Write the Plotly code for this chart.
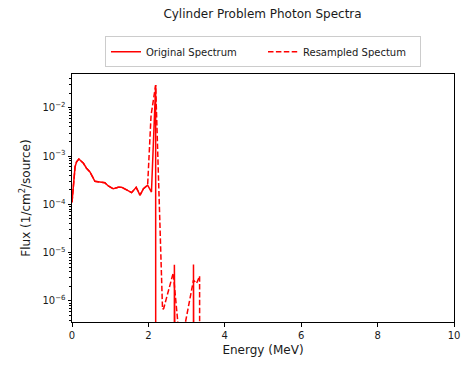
import numpy as np
import plotly.graph_objects as go

# Original spectrum (MeV, flux); zeros are drawn to the bottom like matplotlib's clip
orig_energy = [0.0, 0.08, 0.12, 0.18, 0.30, 0.38, 0.47, 0.53, 0.60, 0.73, 0.86, 0.95,
               1.08, 1.21, 1.30, 1.43, 1.56, 1.68, 1.78, 1.87, 1.98, 2.08, 2.19, 2.20,
               2.67, 2.68, 2.69, 3.17, 3.18, 3.19, 3.40]
orig_flux = [1.1e-4, 6.0e-4, 7.6e-4, 8.7e-4, 7.1e-4, 5.6e-4, 4.7e-4, 3.9e-4, 3.0e-4, 2.9e-4,
             2.8e-4, 2.4e-4, 2.1e-4, 2.25e-4, 2.25e-4, 2.0e-4, 1.75e-4, 2.25e-4, 1.55e-4,
             2.1e-4, 2.5e-4, 1.8e-4, 2.95e-2, 0.0,
             0.0, 5.6e-6, 0.0, 0.0, 5.7e-6, 0.0, 0.0]

# Resampled spectrum
res_energy = [0.0, 0.08, 0.12, 0.18, 0.30, 0.38, 0.47, 0.53, 0.60, 0.73, 0.86, 0.95,
              1.08, 1.21, 1.30, 1.43, 1.56, 1.68, 1.78, 1.87, 1.98, 2.07, 2.19,
              2.37, 2.40, 2.65, 2.78, 2.95, 3.18, 3.26, 3.34, 3.40]
res_flux = [1.1e-4, 6.0e-4, 7.6e-4, 8.7e-4, 7.1e-4, 5.6e-4, 4.7e-4, 3.9e-4, 3.0e-4, 2.9e-4,
            2.8e-4, 2.4e-4, 2.1e-4, 2.25e-4, 2.25e-4, 2.0e-4, 1.75e-4, 2.25e-4, 1.55e-4,
            2.1e-4, 2.5e-4, 7.0e-3, 2.95e-2,
            6.7e-7, 7.0e-7, 3.8e-6, 3.0e-7, 3.0e-7, 2.7e-6, 2.3e-6, 3.3e-6, 0.0]

x_ticks = [0, 2, 4, 6, 8, 10]
y_major = [1e-6, 1e-5, 1e-4, 1e-3, 1e-2]
y_major_text = ["10<sup>−6</sup>", "10<sup>−5</sup>", "10<sup>−4</sup>",
                "10<sup>−3</sup>", "10<sup>−2</sup>"]

FLOOR = 1e-60  # emulate matplotlib clipping of non-positive values on log axes


def clip(vals):
    return [v if v > 0 else FLOOR for v in vals]


minor = [m * 10.0 ** e for e in range(-7, -1) for m in range(2, 10)]
minor = [v for v in minor if 3.6e-7 < v < 0.05]

TXT = "#1a1a1a"
font = dict(family="DejaVu Sans", size=10, color=TXT)

fig = go.Figure()
fig.add_trace(go.Scatter(x=orig_energy, y=clip(orig_flux), mode="lines",
                         name="Original Spectrum",
                         line=dict(color="#ff0000", width=1.5)))
fig.add_trace(go.Scatter(x=res_energy, y=clip(res_flux), mode="lines",
                         name="Resampled Spectum",
                         line=dict(color="#ff0000", width=1.5, dash="5.5px,2.4px")))

fig.update_layout(
    width=463, height=365,
    margin=dict(l=72, r=9, t=74, b=43, autoexpand=False),
    paper_bgcolor="white", plot_bgcolor="white",
    font=font,
    title=dict(text="Cylinder Problem Photon Spectra", x=0.567, xanchor="center",
               y=0.962, yanchor="middle", yref="container",
               font=dict(family="DejaVu Sans", size=12, color=TXT)),
    legend=dict(orientation="h", x=0.5, xanchor="center", y=1.09, yanchor="middle",
                bgcolor="white", bordercolor="#cccccc", borderwidth=1,
                font=dict(family="DejaVu Sans", size=10, color=TXT),
                itemwidth=30, entrywidth=112, entrywidthmode="pixels"),
    showlegend=True,
)
fig.update_xaxes(range=[0, 10], tickvals=x_ticks, ticktext=[str(t) for t in x_ticks],
                 showgrid=False, zeroline=False, showline=True, mirror=True,
                 linecolor="black", linewidth=1, ticks="outside", ticklen=3.5,
                 tickcolor="black", automargin=False,
                 title=dict(text="Energy (MeV)", standoff=6))
fig.update_yaxes(type="log", range=[np.log10(3.67e-7), np.log10(0.05)],
                 tickvals=y_major, ticktext=y_major_text,
                 showgrid=False, zeroline=False, showline=True, mirror=True,
                 linecolor="black", linewidth=1, ticks="outside", ticklen=3.5,
                 tickcolor="black", automargin=False,
                 minor=dict(tickvals=minor, ticks="outside", ticklen=2, tickcolor="black",
                            showgrid=False),
                 title=dict(text="Flux (1/cm<sup>2</sup>/source)", standoff=9))

fig.write_html("out.html")
